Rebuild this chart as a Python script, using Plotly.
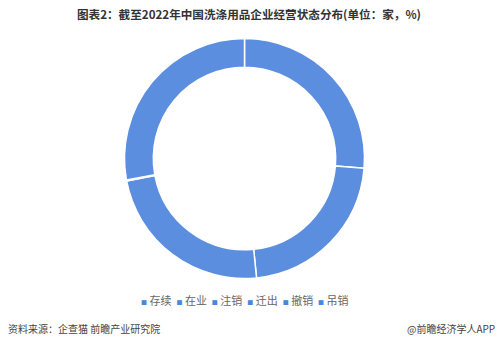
import plotly.graph_objects as go

# Data
categories = ["存续", "在业", "注销", "迁出", "撤销", "吊销"]
shares = [26.3, 22.1, 23.6, 0.1, 0.05, 27.85]

title_text = "图表2：截至2022年中国洗涤用品企业经营状态分布(单位：家，%)"
source_text = "资料来源：企查猫 前瞻产业研究院"
brand_text = "@前瞻经济学人APP"

W, H = 499, 343
ring_color = "#5b8ede"
legend_color = "#4a86da"

fig = go.Figure()
fig.add_trace(go.Pie(
    labels=categories,
    values=shares,
    hole=0.76,
    sort=False,
    direction="clockwise",
    rotation=0,
    textinfo="none",
    hoverinfo="label+value",
    marker=dict(colors=[ring_color] * len(categories),
                line=dict(color="white", width=1.5)),
    domain=dict(x=[(244.5 - 120) / W, (244.5 + 120) / W],
                y=[1 - 278.5 / H, 1 - 38.5 / H]),
    showlegend=False,
))

legend_html = "  ".join(
    f'<span style="color:{legend_color};font-size:6px">■</span> {c}' for c in categories
)

fig.update_layout(
    width=W, height=H,
    margin=dict(l=0, r=0, t=0, b=0),
    paper_bgcolor="white",
    plot_bgcolor="white",
    font=dict(family="Noto Sans CJK SC, sans-serif", color="#555555"),
    annotations=[
        dict(text=f"<b>{title_text}</b>", x=0.499, y=1 - 14 / H, xref="paper", yref="paper",
             xanchor="center", yanchor="middle", showarrow=False,
             font=dict(size=11.6, color="#333333")),
        dict(text=legend_html, x=245 / W, y=1 - 300 / H, xref="paper", yref="paper",
             xanchor="center", yanchor="middle", showarrow=False,
             font=dict(size=11, color="#666666")),
        dict(text=source_text, x=6 / W, y=1 - 328 / H, xref="paper", yref="paper",
             xanchor="left", yanchor="middle", showarrow=False,
             font=dict(size=10, color="#444444")),
        dict(text=brand_text, x=497 / W, y=1 - 328 / H, xref="paper", yref="paper",
             xanchor="right", yanchor="middle", showarrow=False,
             font=dict(size=10, color="#444444")),
    ],
)

fig.write_html("out.html")
